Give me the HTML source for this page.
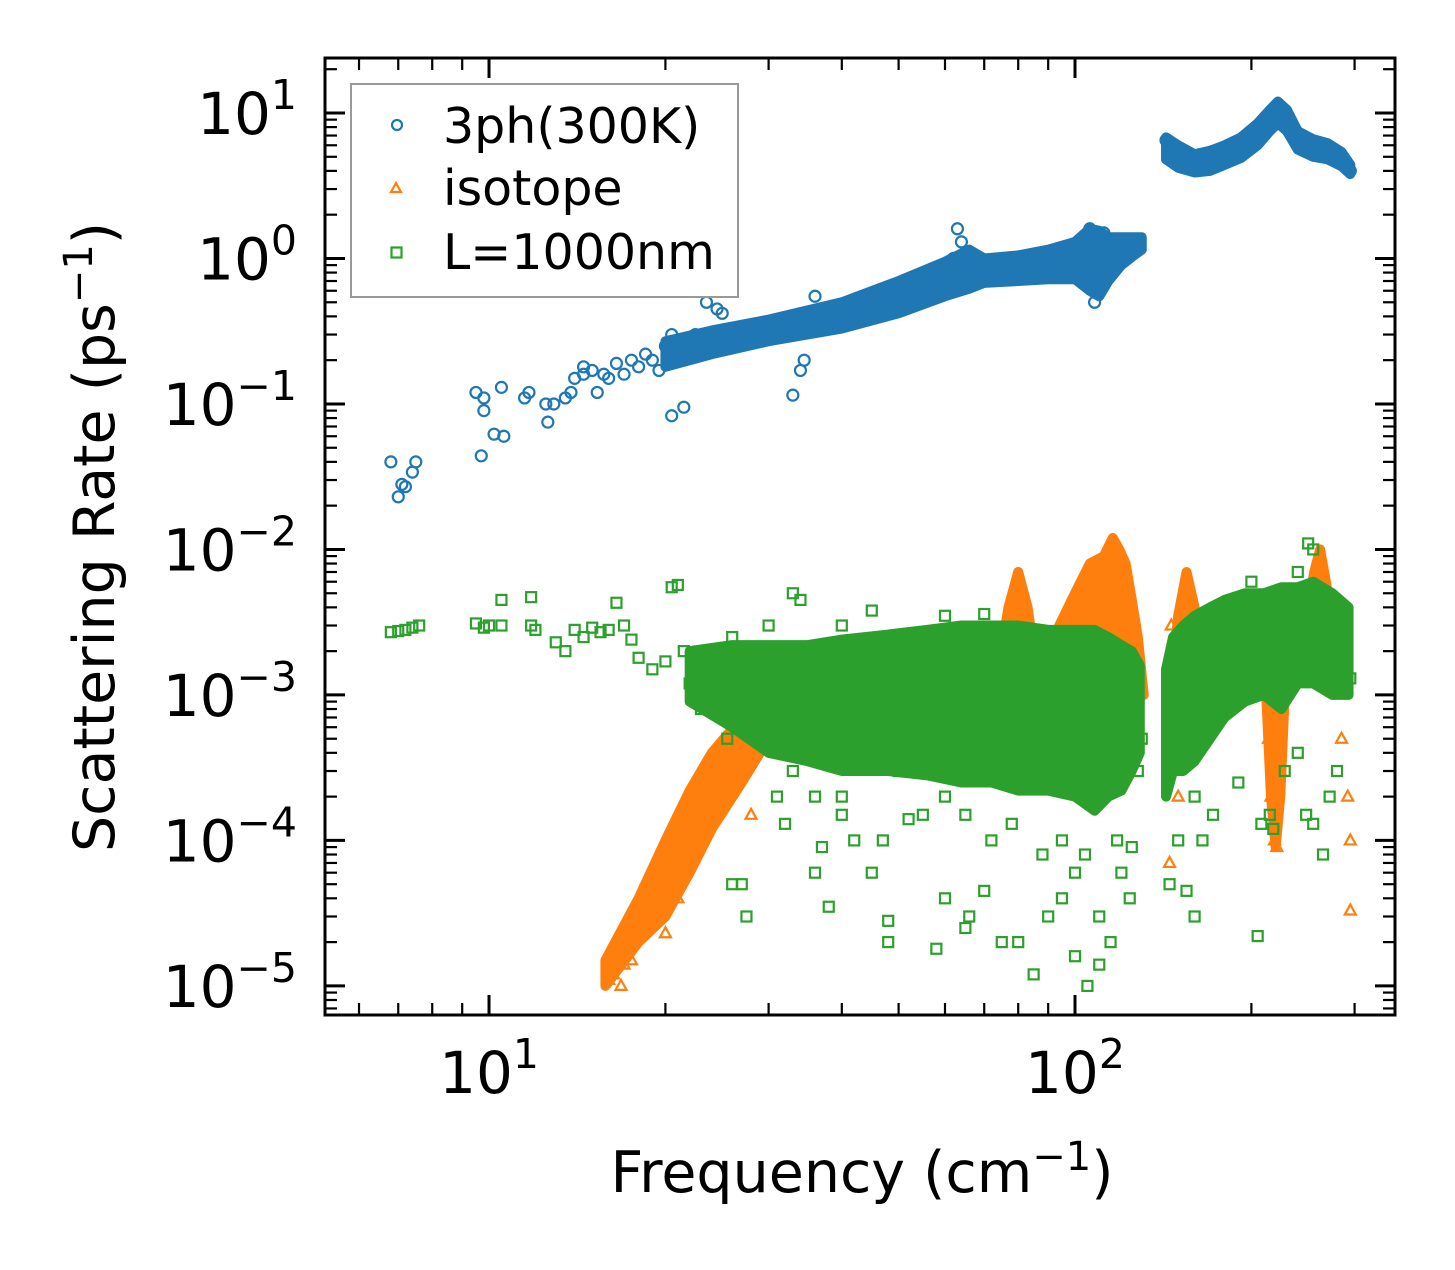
<!DOCTYPE html>
<html><head><meta charset="utf-8">
<style>
html,body{margin:0;padding:0;background:#fff;}
svg text{font-family:"DejaVu Sans","Liberation Sans",sans-serif;fill:#000;}
</style></head>
<body>
<svg id="chart" width="1455" height="1265" viewBox="0 0 1455 1265" xmlns="http://www.w3.org/2000/svg">
<rect x="0" y="0" width="1455" height="1265" fill="#fff"/>
<g id="marks"></g>
<g id="axes"></g>
<g id="legend">
  <rect x="351" y="84" width="387" height="213" fill="#fff" stroke="#999" stroke-width="2"/>
  <circle cx="397" cy="125" r="5" fill="none" stroke="#1f77b4" stroke-width="2.2"/>
  <text x="443" y="143" font-size="49">3ph(300K)</text>
  <path d="M396,183 L401,192 L391,192 Z" fill="none" stroke="#ff7f0e" stroke-width="2.2"/>
  <text x="443" y="205" font-size="49">isotope</text>
  <rect x="391.5" y="247.5" width="10" height="10" fill="none" stroke="#2ca02c" stroke-width="2.2"/>
  <text x="443" y="269" font-size="49">L=1000nm</text>
</g>
<text transform="translate(114,537) rotate(-90)" text-anchor="middle" font-size="57">Scattering Rate (ps<tspan dy="-22" font-size="40">−1</tspan><tspan dy="22">)</tspan></text>
<text x="862" y="1192" text-anchor="middle" font-size="57">Frequency (cm<tspan dy="-22" font-size="40">−1</tspan><tspan dy="22">)</tspan></text>
</svg>
<script>
const phData = [[6.8,0.04],[7.0,0.023],[7.1,0.028],[7.2,0.027],[7.4,0.034],[7.5,0.04],[9.5,0.12],[9.7,0.044],[9.8,0.09],[9.8,0.11],[10.2,0.062],[10.5,0.13],[10.6,0.06],[11.5,0.11],[11.7,0.12],[12.6,0.075],[12.5,0.1],[12.9,0.1],[13.5,0.11],[13.8,0.12],[14,0.15],[14.5,0.16],[14.5,0.18],[15,0.17],[15.3,0.12],[15.7,0.16],[16,0.15],[16.5,0.19],[17,0.16],[17.5,0.2],[18,0.18],[18.5,0.22],[19,0.2],[19.5,0.17],[20,0.25],[20.5,0.3],[20.5,0.083],[21.5,0.095],[21,0.22],[22,0.25],[22.5,0.3],[23,0.27],[23.5,0.5],[24,0.28],[24.5,0.45],[25,0.3],[25,0.42],[25.5,0.25],[26,0.3],[27,0.33],[28,0.31],[29,0.35],[30,0.32],[31,0.36],[32,0.35],[33,0.4],[34,0.38],[34.5,0.2],[34,0.17],[33,0.115],[35,0.4],[36,0.55],[37,0.42],[38,0.45],[40,0.48],[42,0.5],[44,0.55],[46,0.58],[48,0.62],[50,0.65],[55,0.75],[60,0.85],[62,1.0],[63,1.6],[64,1.3],[65,0.9],[70,0.9],[80,0.95],[90,1.0],[100,1.1],[105,1.2],[108,0.9],[110,1.4],[112,1.0],[114,0.85],[115,1.3],[108,0.5],[110,0.65],[106,1.6],[112,1.5],[143,6.5],[295,4]];
const isoData = [[16,1.1e-5],[16.3,1.2e-5],[16.8,1e-5],[17,1.4e-5],[17.5,1.5e-5],[18,3.5e-5],[18.5,4e-5],[19,5e-5],[19.5,6e-5],[20,2.3e-5],[20,8e-5],[20.5,1e-4],[21,4e-5],[21,1.2e-4],[21.5,6e-5],[22,1.5e-4],[22.5,2e-4],[23,1.7e-4],[23.5,2.5e-4],[24,3e-4],[25,4e-4],[26,5e-4],[27,6e-4],[28,7e-4],[30,9e-4],[32,1.1e-3],[35,1.2e-3],[40,1.3e-3],[50,1.8e-3],[60,2.5e-3],[146,3e-3],[214,5e-4],[216,2e-4],[219,1e-4],[221,9e-5],[224,3e-4],[262,9e-3],[275,3e-3],[285,5e-4],[292,2e-4],[295,1e-4],[295,3.3e-5],[145,7e-5],[150,2e-4],[28,1.5e-4]];
const bdData = [[6.8,2.7e-3],[7,2.75e-3],[7.2,2.8e-3],[7.4,2.9e-3],[7.6,3e-3],[9.5,3.1e-3],[9.8,2.9e-3],[10,3e-3],[10.5,4.5e-3],[10.5,3e-3],[11.8,4.7e-3],[11.8,3e-3],[12,2.8e-3],[13,2.3e-3],[13.5,2e-3],[14,2.8e-3],[14.5,2.5e-3],[15,2.9e-3],[15.5,2.7e-3],[16,2.8e-3],[16.5,4.3e-3],[17,3e-3],[17.5,2.4e-3],[18,1.8e-3],[19,1.5e-3],[20,1.7e-3],[20.5,5.5e-3],[21,5.7e-3],[21.5,2e-3],[22,1.2e-3],[22.5,1e-3],[23,8e-4],[24,1.3e-3],[25,1.5e-3],[25.5,5e-4],[26,5e-5],[27,5e-5],[27.5,3e-5],[28,1e-3],[30,6e-4],[31,2e-4],[32,1.3e-4],[33,5e-3],[34,4.5e-3],[35,1e-3],[36,6e-5],[37,9e-5],[38,3.5e-5],[40,2e-4],[42,1e-4],[45,6e-5],[48,2e-5],[48,2.8e-5],[50,3e-4],[55,1.5e-4],[58,1.8e-5],[60,4e-5],[65,2.5e-5],[66,3e-5],[70,4.5e-5],[75,2e-5],[80,2e-5],[85,1.2e-5],[90,3e-5],[95,4e-5],[100,1.6e-5],[105,1e-5],[110,1.4e-5],[115,2e-5],[120,6e-5],[125,9e-5],[128,3e-4],[130,5e-4],[145,5e-5],[150,1e-4],[155,4.5e-5],[160,3e-5],[165,1e-4],[205,2.2e-5],[208,1.3e-4],[215,1.5e-4],[240,4e-4],[255,1.3e-4],[265,8e-5],[280,3e-4],[295,1.3e-3],[250,1.1e-2],[255,1e-2],[240,7e-3],[200,6e-3],[40,1.5e-4],[45,4e-4],[52,1.4e-4],[60,2e-4],[65,1.5e-4],[72,1e-4],[78,1.3e-4],[88,8e-5],[95,1e-4],[100,6e-5],[104,8e-5],[110,3e-5],[118,1e-4],[124,4e-5],[36,2e-4],[33,3e-4],[47,1e-4],[160,2e-4],[172,1.5e-4],[190,2.5e-4],[218,1.2e-4],[228,3e-4],[248,1.5e-4],[272,2e-4],[60,3.5e-3],[45,3.8e-3],[40,3e-3],[70,3.6e-3],[30,3e-3],[26,2.5e-3]];
// dense-region envelopes: freq, lower rate, upper rate
const phBand1Freq = [20,24,30,40,50,60,66,70,80,90,100,106,110,114,120,126,130];
const phBand1Low  = [0.18,0.22,0.27,0.33,0.42,0.55,0.62,0.68,0.7,0.72,0.72,0.6,0.55,0.7,0.9,1.05,1.15];
const phBand1High = [0.27,0.32,0.38,0.5,0.7,0.95,1.15,1.0,1.05,1.15,1.3,1.6,1.55,1.4,1.4,1.4,1.4];
const phBand2Freq = [143,150,160,170,180,192,205,215,222,230,240,255,270,285,295];
const phBand2Low  = [4.8,4.2,3.9,4.0,4.4,4.9,6.0,7.5,8.5,7.5,5.6,5.0,4.8,4.3,3.8];
const phBand2High = [6.8,6.0,5.2,5.5,6.0,6.8,8.5,10.5,12,10.5,7.5,6.6,6.2,5.4,4.4];
const isoRiseFreq = [15.8,18,20,22,24,27,30];
const isoRiseLow  = [1e-5,2e-5,3e-5,6e-5,1.2e-4,2.5e-4,5e-4];
const isoRiseHigh = [1.5e-5,4e-5,1e-4,2.2e-4,4e-4,7e-4,1e-3];
const isoPeakFreq = [74,77,80,83,86,90,94,100,106,112,116,119,122,125,128,131];
const isoPeakLow  = [1.5e-3,1.5e-3,1.5e-3,1.5e-3,1.5e-3,1.5e-3,1.5e-3,1.5e-3,1.5e-3,1.5e-3,1.5e-3,1.5e-3,1.5e-3,1.5e-3,1.2e-3,1e-3];
const isoPeakHigh = [1.5e-3,4e-3,7e-3,4e-3,1.5e-3,2e-3,3e-3,5e-3,8e-3,9e-3,1.2e-2,1e-2,8e-3,4.5e-3,2.5e-3,1e-3];
const isoPeak2Freq = [146,150,155,160,165];
const isoPeak2Low  = [1e-3,1e-3,1e-3,1e-3,1e-3];
const isoPeak2High = [1.2e-3,3.5e-3,7e-3,4e-3,1.5e-3];
const isoPeak3Freq = [212,216,220,224,228];
const isoPeak3Low  = [1e-3,2e-4,9e-5,2e-4,1e-3];
const isoPeak3High = [1.5e-3,1.5e-3,1.5e-3,1.5e-3,1.5e-3];
const isoPeak4Freq = [250,256,262,268,274];
const isoPeak4Low  = [3e-3,3e-3,3e-3,3e-3,3e-3];
const isoPeak4High = [4e-3,7e-3,1e-2,6e-3,3.5e-3];
const bdBand1Freq = [22,26,30,35,40,48,56,64,72,80,90,100,108,114,120,125,129];
const bdBand1Low  = [9e-4,6e-4,4e-4,3.5e-4,3e-4,3e-4,2.8e-4,2.5e-4,2.5e-4,2.2e-4,2.2e-4,2e-4,1.6e-4,2e-4,2.2e-4,3e-4,4e-4];
const bdBand1High = [2e-3,2.2e-3,2.2e-3,2.2e-3,2.4e-3,2.6e-3,2.8e-3,3e-3,3e-3,3e-3,2.8e-3,2.8e-3,2.8e-3,2.5e-3,2.2e-3,2e-3,1.6e-3];
const bdBand2Freq = [143,147,153,160,170,180,195,210,225,240,255,275,293];
const bdBand2Low  = [2e-4,3e-4,3e-4,3.5e-4,5e-4,7e-4,9e-4,1e-3,8e-4,1.2e-3,1.2e-3,1e-3,1e-3];
const bdBand2High = [1.5e-3,2.5e-3,3e-3,3.5e-3,4e-3,4.5e-3,5e-3,5e-3,5.5e-3,5.5e-3,6e-3,5e-3,4e-3];
const yTickExps = [1,0,-1,-2,-3,-4,-5];
const xTickExps = [1,2];

const NS = "http://www.w3.org/2000/svg";
const L = 325, R = 1395, T = 58, B = 1015;
const xLogMin = 0.7201, xLogMax = 2.5461, yLogMin = -5.2, yLogMax = 1.378;
function xs(v){ return L + (Math.log10(v) - xLogMin) / (xLogMax - xLogMin) * (R - L); }
function ys(v){ return B - (Math.log10(v) - yLogMin) / (yLogMax - yLogMin) * (B - T); }
function mk(tag, attrs, parent){ const e = document.createElementNS(NS, tag); for (const k in attrs) e.setAttribute(k, attrs[k]); parent.appendChild(e); return e; }
function bandPath(f, lo, hi){
  let d = '';
  for (let i = 0; i < f.length; i++) d += (i ? 'L' : 'M') + xs(f[i]) + ',' + ys(hi[i]) + ' ';
  for (let i = f.length - 1; i >= 0; i--) d += 'L' + xs(f[i]) + ',' + ys(lo[i]) + ' ';
  return d + 'Z';
}
const marks = document.getElementById('marks');
function drawBand(f, lo, hi, color, name){
  const p = mk('path', {d: bandPath(f, lo, hi), fill: color, stroke: color, 'stroke-width': 10, 'stroke-linejoin': 'round'}, marks);
  
  
}

drawBand(phBand1Freq, phBand1Low, phBand1High, '#1f77b4', 'dense-region-3ph-low');
drawBand(phBand2Freq, phBand2Low, phBand2High, '#1f77b4', 'dense-region-3ph-high');
phData.forEach(function(d){
  const c = mk('circle', {cx: xs(d[0]), cy: ys(d[1]), r: 5.5, fill: 'none', stroke: '#1f77b4', 'stroke-width': 2.2}, marks);
  
  
});
drawBand(isoRiseFreq, isoRiseLow, isoRiseHigh, '#ff7f0e', 'dense-region-isotope-rise');
drawBand(isoPeakFreq, isoPeakLow, isoPeakHigh, '#ff7f0e', 'dense-region-isotope-peak');
drawBand(isoPeak2Freq, isoPeak2Low, isoPeak2High, '#ff7f0e', 'dense-region-isotope-peak2');
drawBand(isoPeak3Freq, isoPeak3Low, isoPeak3High, '#ff7f0e', 'dense-region-isotope-dip');
drawBand(isoPeak4Freq, isoPeak4Low, isoPeak4High, '#ff7f0e', 'dense-region-isotope-peak4');
isoData.forEach(function(d){
  const x = xs(d[0]), y = ys(d[1]);
  const p = mk('path', {d: 'M' + x + ',' + (y - 6) + ' L' + (x + 5.5) + ',' + (y + 4) + ' L' + (x - 5.5) + ',' + (y + 4) + ' Z', fill: 'none', stroke: '#ff7f0e', 'stroke-width': 2.2}, marks);
  
  
});
drawBand(bdBand1Freq, bdBand1Low, bdBand1High, '#2ca02c', 'dense-region-boundary-low');
drawBand(bdBand2Freq, bdBand2Low, bdBand2High, '#2ca02c', 'dense-region-boundary-high');
bdData.forEach(function(d){
  const r = mk('rect', {x: xs(d[0]) - 5, y: ys(d[1]) - 5, width: 10, height: 10, fill: 'none', stroke: '#2ca02c', 'stroke-width': 2.2}, marks);
  
  
});

const axes = document.getElementById('axes');
const frame = mk('rect', {x: L, y: T, width: R - L, height: B - T, fill: 'none', stroke: '#000', 'stroke-width': 3}, axes);


for (let e = -6; e <= 1; e++) {
  for (let m = 1; m <= 9; m++) {
    const y = ys(m * Math.pow(10, e));
    if (y < T || y > B) continue;
    const len = m === 1 ? 20 : 12;
    const w = m === 1 ? 3 : 2.2;
    const t1 = mk('line', {x1: L, x2: L + len, y1: y, y2: y, stroke: '#000', 'stroke-width': w}, axes);
    
    
    const t2 = mk('line', {x1: R, x2: R - len, y1: y, y2: y, stroke: '#000', 'stroke-width': w}, axes);
    
    
  }
}
yTickExps.forEach(function(e){
  const y = ys(Math.pow(10, e));
  const t = mk('text', {x: 297, y: y + 21, 'text-anchor': 'end', 'font-size': 58}, axes);
  
  
  t.appendChild(document.createTextNode('10'));
  const s = mk('tspan', {dy: -25, 'font-size': 41}, t);
  s.textContent = e < 0 ? '−' + (-e) : String(e);
});
for (let e = 0; e <= 2; e++) {
  for (let m = 1; m <= 9; m++) {
    const x = xs(m * Math.pow(10, e));
    if (x < L || x > R) continue;
    const len = m === 1 ? 20 : 12;
    const w = m === 1 ? 3 : 2.2;
    const t1 = mk('line', {x1: x, x2: x, y1: B, y2: B - len, stroke: '#000', 'stroke-width': w}, axes);
    
    
    const t2 = mk('line', {x1: x, x2: x, y1: T, y2: T + len, stroke: '#000', 'stroke-width': w}, axes);
    
    
  }
}
xTickExps.forEach(function(e){
  const x = xs(Math.pow(10, e));
  const t = mk('text', {x: x, y: 1093, 'text-anchor': 'middle', 'font-size': 58}, axes);
  
  
  t.appendChild(document.createTextNode('10'));
  const s = mk('tspan', {dy: -25, 'font-size': 41}, t);
  s.textContent = String(e);
});
</script>
</body></html>
